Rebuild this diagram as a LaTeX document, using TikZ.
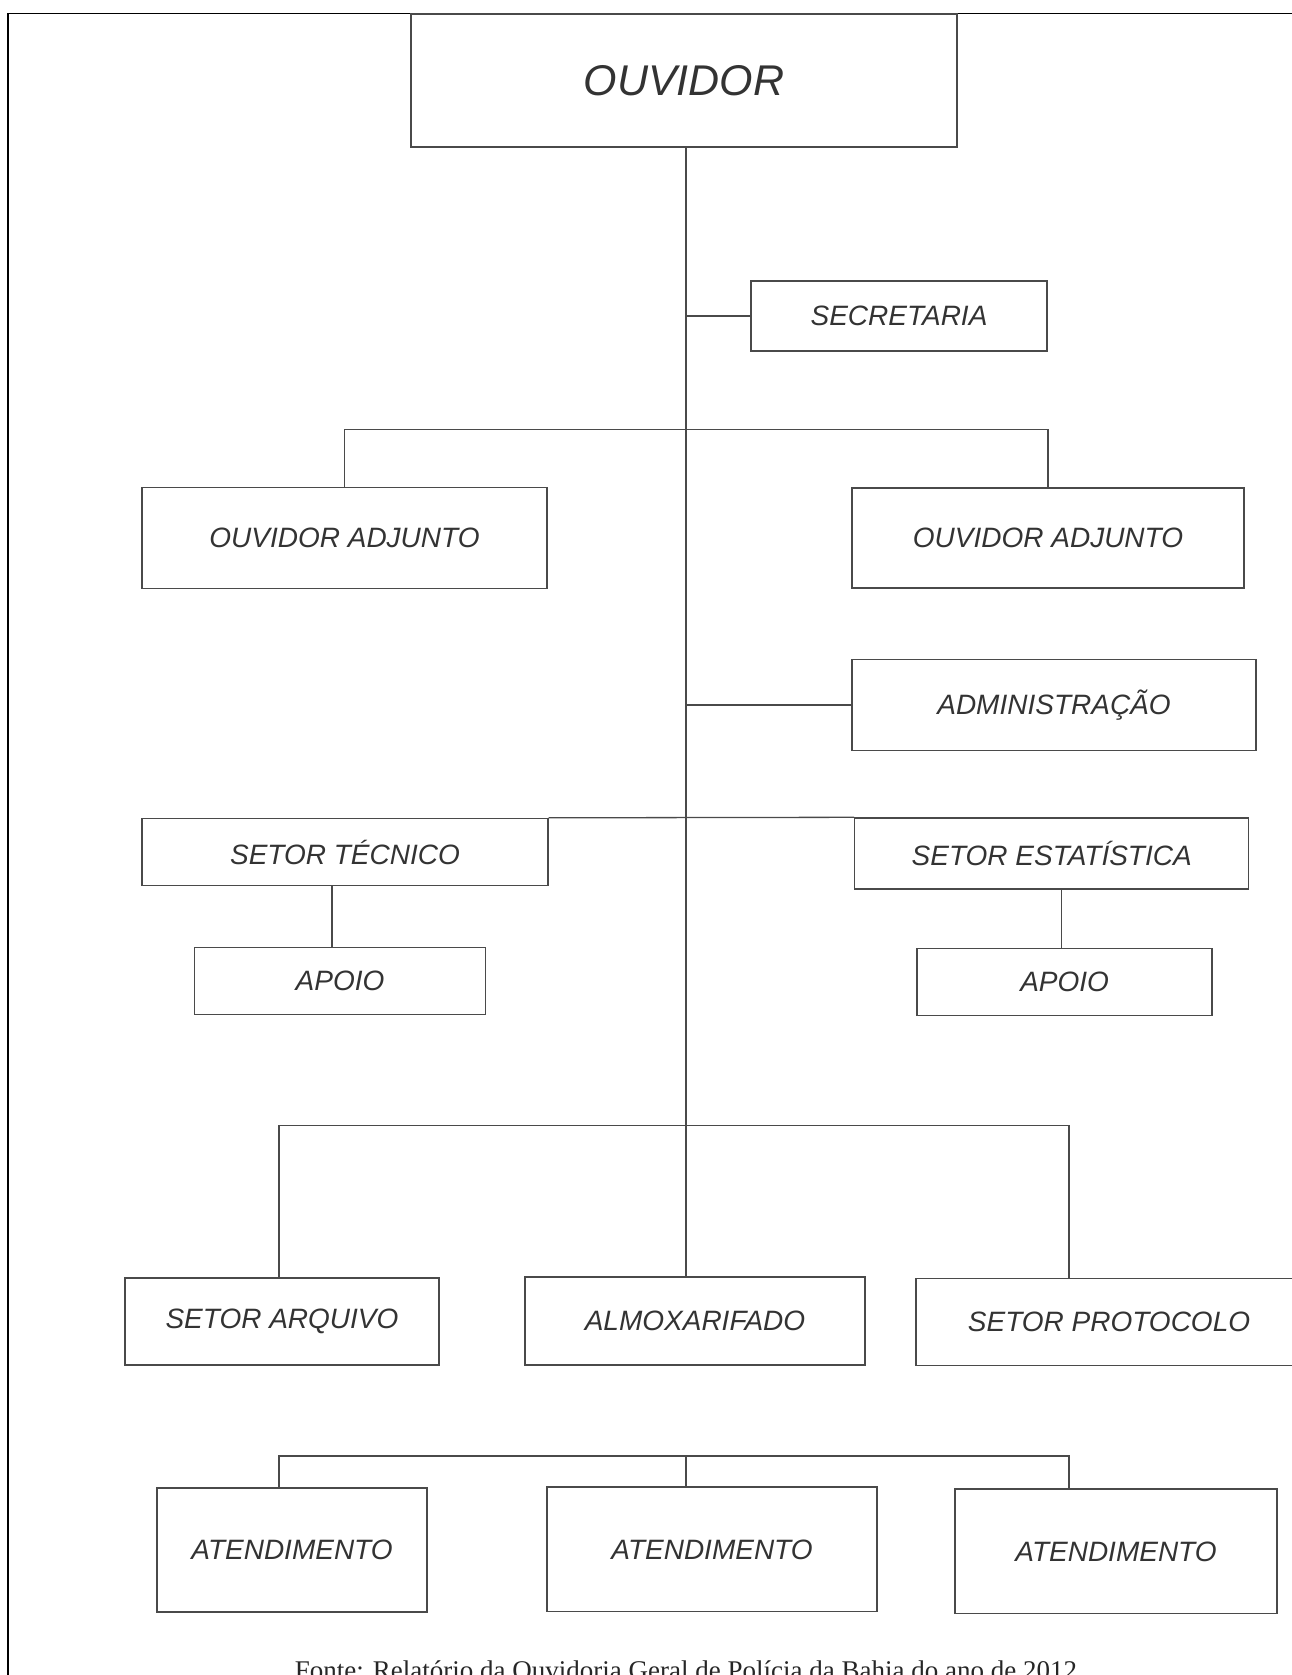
\documentclass[tikz,border=0pt]{standalone}
\usepackage{fontspec}
\setmainfont{Liberation Serif}
\newfontfamily\arialfont{Liberation Sans}
\definecolor{boxline}{HTML}{4A4A4A}
\definecolor{txt}{HTML}{333333}
\begin{document}
\begin{tikzpicture}[x=1pt,y=-1pt,
  orgbox/.style={draw=boxline, line width=1.4pt, rectangle, inner sep=0pt, text=txt,
    font=\arialfont\itshape\fontsize{28}{28}\selectfont},
  link/.style={draw=boxline, line width=1.3pt}]
\useasboundingbox (0,0) rectangle (1291,1675);
\fill[white] (0,0) rectangle (1291,1675);
\draw[line width=1.8pt] (8,1690) -- (8,13.5) -- (1300,13.5);

\node[orgbox, minimum width=546pt, minimum height=133pt,
  font=\arialfont\itshape\fontsize{43}{43}\selectfont] (ouv) at (684,80.5) {OUVIDOR};
\node[orgbox, minimum width=296pt, minimum height=70pt] (sec) at (899,316) {SECRETARIA};
\node[orgbox, minimum width=405pt, minimum height=101pt] (adj1) at (344.5,537.7) {OUVIDOR ADJUNTO};
\node[orgbox, minimum width=392pt, minimum height=100pt] (adj2) at (1048,538) {OUVIDOR ADJUNTO};
\node[orgbox, minimum width=404pt, minimum height=91pt] (adm) at (1054,705) {ADMINISTRAÇÃO};
\node[orgbox, minimum width=406pt, minimum height=67pt] (tec) at (345,852) {SETOR TÉCNICO};
\node[orgbox, minimum width=394pt, minimum height=71pt] (est) at (1051.7,853.5) {SETOR ESTATÍSTICA};
\node[orgbox, minimum width=291.5pt, minimum height=67pt] (apo1) at (340,980.8) {APOIO};
\node[orgbox, minimum width=295pt, minimum height=67pt] (apo2) at (1064.6,981.9) {APOIO};
\node[orgbox, minimum width=314pt, minimum height=87pt] (arq) at (282,1321.5) {SETOR ARQUIVO};
\node[orgbox, minimum width=340pt, minimum height=88pt] (alm) at (695,1321) {ALMOXARIFADO};
\node[orgbox, minimum width=386pt, minimum height=87pt] (pro) at (1109,1322) {SETOR PROTOCOLO};
\node[orgbox, minimum width=270pt, minimum height=124pt] (at1) at (292,1550) {ATENDIMENTO};
\node[orgbox, minimum width=330pt, minimum height=124.7pt] (at2) at (712,1549.4) {ATENDIMENTO};
\node[orgbox, minimum width=322pt, minimum height=124.7pt] (at3) at (1116,1551.4) {ATENDIMENTO};

\node[anchor=base, text=black!85, font=\fontsize{27}{27}\selectfont, inner sep=0pt] (fonte) at (686,1679)
  {Fonte: Relatório da Ouvidoria Geral de Polícia da Bahia do ano de 2012};

\coordinate (mx) at (686,0);
\coordinate (tx) at (332,0);
\coordinate (ex) at (1061.4,0);
\coordinate (xl) at (279,0);
\coordinate (xr) at (1069,0);
\coordinate (b1) at (0,429.3);
\coordinate (b3) at (0,1125.5);
\coordinate (b4) at (0,1456);

\draw[link] (ouv.south -| mx) -- (alm.north -| mx);
\draw[link] (sec.west -| mx) -- (sec.west);
\draw[link] (adj1.north) |- (b1 -| adj2.north) -- (adj2.north);
\draw[link] (adm.west -| mx) -- (adm.west);
\draw[link] (tec.north east) -- (est.north west);
\draw[link] (tec.south -| tx) -- (apo1.north -| tx);
\draw[link] (est.south -| ex) -- (apo2.north -| ex);
\draw[link] (arq.north -| xl) |- (b3 -| xr) -- (pro.north -| xr);
\draw[link] (at1.north -| xl) |- (b4 -| xr) -- (at3.north -| xr);
\draw[link] (b4 -| mx) -- (at2.north -| mx);
\end{tikzpicture}
\end{document}
